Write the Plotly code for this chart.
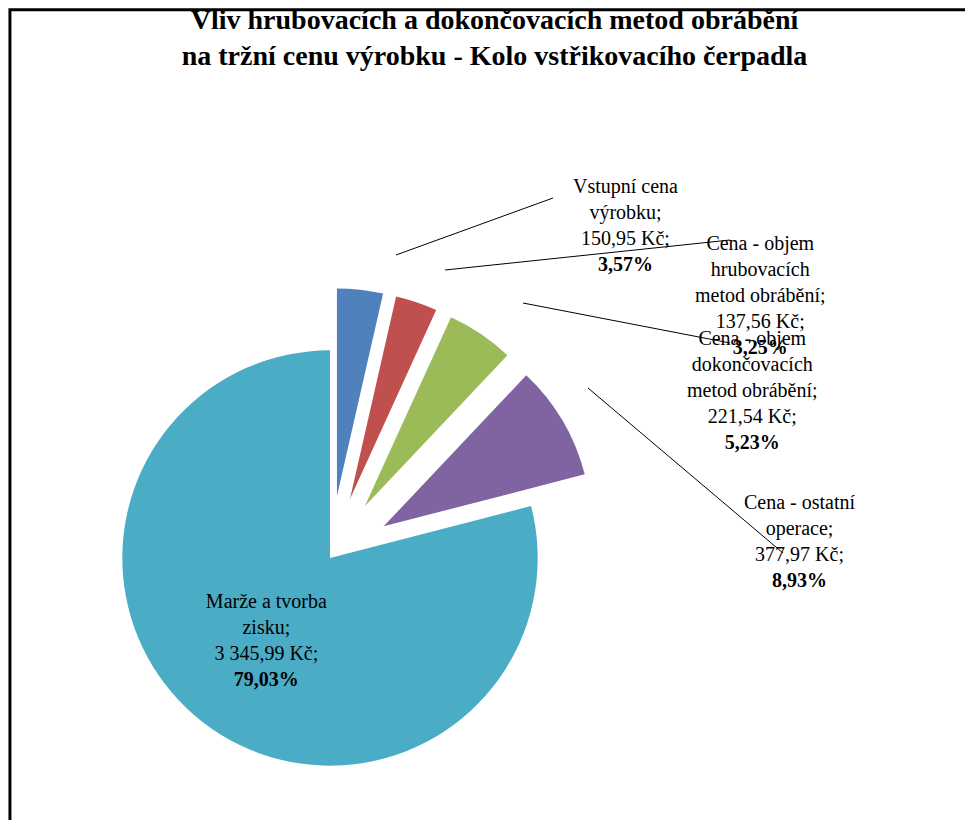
import plotly.graph_objects as go

labels = ["Vstupní cena<br>výrobku", "Cena - objem<br>hrubovacích<br>metod obrábění",
          "Cena - objem<br>dokončovacích<br>metod obrábění", "Cena - ostatní<br>operace",
          "Marže a tvorba<br>zisku"]
values = [150.95, 137.56, 221.54, 377.97, 3345.99]
price_text = ["150,95", "137,56", "221,54", "377,97", "3 345,99"]
pct_text = ["3,57%", "3,25%", "5,23%", "8,93%", "79,03%"]
colors = ["#4F81BD", "#C0504D", "#9BBB59", "#8064A2", "#4BACC6"]

W, H = 973, 820
FONT = "Liberation Serif"

fig = go.Figure(go.Pie(
    labels=labels, values=values, sort=False, direction="clockwise", rotation=0,
    marker=dict(colors=colors, line=dict(color="white", width=0)),
    pull=[0.3, 0.3, 0.3, 0.3, 0],
    customdata=list(zip(price_text, pct_text)),
    texttemplate=["", "", "", "", "%{label};<br>%{customdata[0]} Kč;<br><b>%{customdata[1]}</b>"],
    textposition="inside",
    insidetextorientation="horizontal",
    textfont=dict(family=FONT, size=20, color="black"),
    domain=dict(x=[52 / W, 592 / W], y=[0, 540 / H]),
    showlegend=False,
))

# outside labels (text position in px) and leader lines (px)
label_pos = [(617, 165), (820, 222), (812, 382), (850, 585)]
leaders = [[(388, 247), (545, 190)], [(437, 262), (722, 232)],
           [(515, 295), (722, 335)], [(580, 380), (775, 545)]]

for i, (px, py) in enumerate(label_pos):
    fig.add_annotation(x=px / W, y=1 - py / H, xref="paper", yref="paper", showarrow=False,
                       text=f"{labels[i]};<br>{price_text[i]} Kč;<br><b>{pct_text[i]}</b>",
                       font=dict(family=FONT, size=20, color="black"), align="center")

shapes = [dict(type="rect", xref="paper", yref="paper", x0=0.002, x1=0.998, y0=0.002, y1=0.998,
               line=dict(color="black", width=3))]
for (x0, y0), (x1, y1) in leaders:
    shapes.append(dict(type="line", xref="paper", yref="paper", x0=x0 / W, y0=1 - y0 / H,
                       x1=x1 / W, y1=1 - y1 / H, line=dict(color="black", width=1)))

fig.update_layout(
    width=W, height=H,
    title=dict(text="<b>Vliv hrubovacích a dokončovacích metod obrábění<br>na tržní cenu výrobku - Kolo vstřikovacího čerpadla</b>",
               x=0.5, xanchor="center", y=0.975, yanchor="top",
               font=dict(family=FONT, size=28, color="black")),
    margin=dict(l=0, r=0, t=0, b=0),
    paper_bgcolor="white",
    shapes=shapes,
)
fig.write_html("out.html")
